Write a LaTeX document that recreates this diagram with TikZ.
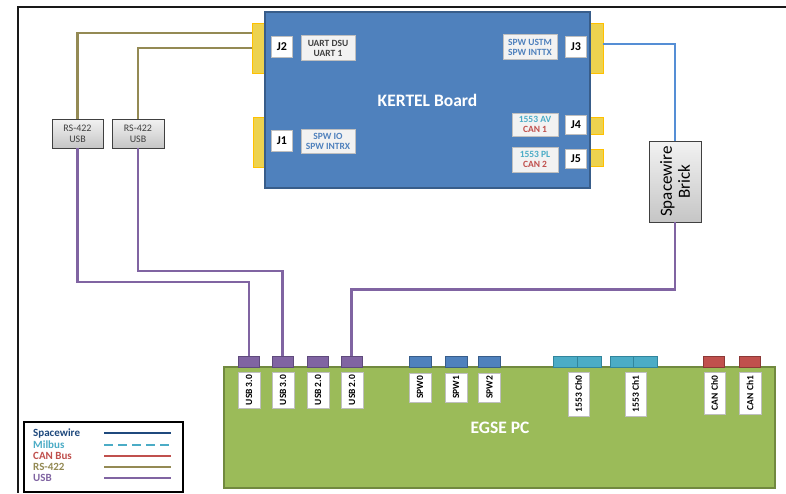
\documentclass[tikz,border=0pt]{standalone}
\usepackage{fontspec}
\setmainfont{Carlito}
\definecolor{boardblue}{HTML}{4F81BD}
\definecolor{boardedge}{HTML}{385D8A}
\definecolor{jackfill}{HTML}{EDD24F}
\definecolor{jackedge}{HTML}{FFC000}
\definecolor{pcgreen}{HTML}{9BBB59}
\definecolor{pcedge}{HTML}{71893F}
\definecolor{usbpurple}{HTML}{8064A2}
\definecolor{usbedge}{HTML}{5F4A7C}
\definecolor{milcyan}{HTML}{4BACC6}
\definecolor{miledge}{HTML}{31859C}
\definecolor{canred}{HTML}{C0504D}
\definecolor{canedge}{HTML}{8C3836}
\definecolor{rsolive}{HTML}{948A54}
\definecolor{spwdark}{HTML}{1F497D}
\definecolor{wireblue}{HTML}{558ED5}
\definecolor{labgray}{HTML}{F2F2F2}
\definecolor{labedge}{HTML}{BFBFBF}
\begin{document}
\begin{tikzpicture}[x=1pt,y=-1pt,
  box/.style={rectangle, inner sep=0pt, outer sep=0pt},
  jack/.style={box, fill=jackfill, draw=jackedge, line width=1pt},
  jlabel/.style={box, fill=white, draw=labedge, line width=0.8pt,
    minimum width=21, minimum height=21, font=\fontsize{12}{12}\selectfont\bfseries},
  infolab/.style={box, fill=labgray, draw=labedge, line width=1pt,
    align=center, font=\fontsize{9.5}{10}\selectfont\bfseries},
  conv/.style={box, top color=labgray, bottom color=gray!45, draw=black!75,
    line width=0.8pt, align=center},
  port/.style={box, line width=0.8pt, minimum height=11},
  usbport/.style={port, fill=usbpurple, draw=usbedge, minimum width=21},
  spwport/.style={port, fill=boardblue, draw=boardedge, minimum width=22},
  milport/.style={port, fill=milcyan, draw=miledge, minimum width=24},
  canport/.style={port, fill=canred, draw=canedge, minimum width=21},
  portlab/.style={box, fill=white, draw=labedge, line width=0.8pt, rotate=90,
    minimum height=22, font=\fontsize{9.5}{9.5}\selectfont\bfseries},
  rswire/.style={draw=rsolive, line width=2.2pt},
  usbwire/.style={draw=usbpurple, line width=2.2pt},
  spwwire/.style={draw=wireblue, line width=2.2pt},
  legtext/.style={anchor=west, inner sep=0pt, font=\fontsize{11}{11}\selectfont\bfseries}
]
\useasboundingbox (0,0) rectangle (786,493);

% outer frame
\draw[line width=2pt, black!90] (786,7) -- (18,7) -- (18,493);

% board connectors
\node[jack, minimum width=13, minimum height=50] (y2) at (258.5,48) {};
\node[jack, minimum width=12, minimum height=50] (y1) at (259,142) {};
\node[jack, minimum width=13, minimum height=50] (y3) at (596.5,48) {};
\node[jack, minimum width=13, minimum height=17] (y4) at (596.5,125.5) {};
\node[jack, minimum width=13, minimum height=17] (y5) at (596.5,158) {};

% KERTEL board
\node[box, fill=boardblue, draw=boardedge, line width=1.2pt,
  minimum width=325, minimum height=176, text=white,
  font=\fontsize{17.5}{17.5}\selectfont\bfseries] (board) at (427.5,100) {KERTEL Board};

\node[jlabel] (j2) at (282,47) {J2};
\node[jlabel] (j1) at (282,141) {J1};
\node[jlabel] (j3) at (576,47) {J3};
\node[jlabel, minimum height=19] (j4) at (576,125) {J4};
\node[jlabel, minimum height=19] (j5) at (576,159) {J5};

\node[infolab, minimum width=54, minimum height=25, text=black!75] (l2) at (328,48) {UART DSU\\UART 1};
\node[infolab, minimum width=54, minimum height=24, text=boardblue] (l1) at (328,141) {SPW IO\\SPW INTRX};
\node[infolab, minimum width=54, minimum height=25, text=boardblue] (l3) at (530,47) {SPW USTM\\SPW INTTX};
\node[infolab, minimum width=46, minimum height=23] (l4) at (535,124.5) {\textcolor{milcyan}{1553 AV}\\\textcolor{canred}{CAN 1}};
\node[infolab, minimum width=46, minimum height=25] (l5) at (535,159.5) {\textcolor{milcyan}{1553 PL}\\\textcolor{canred}{CAN 2}};

% converters
\node[conv, minimum width=51, minimum height=29, font=\fontsize{10}{11}\selectfont, text=black!75] (r1) at (77.5,133.5) {RS-422\\USB};
\node[conv, minimum width=52, minimum height=29, font=\fontsize{10}{11}\selectfont, text=black!75] (r2) at (138,133.5) {RS-422\\USB};
\node[conv, minimum width=52, minimum height=81] (brick) at (675,181.5) {};
\node[rotate=90, align=center, inner sep=0pt, font=\fontsize{17}{18}\selectfont] (bricktext) at (brick.center) {Spacewire\\Brick};

% EGSE PC
\node[box, fill=pcgreen, draw=pcedge, line width=1.2pt, minimum width=551, minimum height=121] (pc) at (499.5,427.5) {};
\node[text=white, font=\fontsize{17.5}{17.5}\selectfont\bfseries, inner sep=0pt] (pctext) at (500,428) {EGSE PC};

% PC ports
\node[usbport, anchor=south] (u1) at (249,367) {};
\node[usbport, anchor=south] (u2) at (282.5,367) {};
\node[usbport, anchor=south] (u3) at (317.5,367) {};
\node[usbport, anchor=south] (u4) at (351.5,367) {};
\node[spwport, anchor=south] (s0) at (420,367) {};
\node[spwport, anchor=south] (s1) at (456,367) {};
\node[spwport, anchor=south] (s2) at (489,367.5) {};
\node[milport, anchor=south] (m0a) at (565,367) {};
\node[milport, anchor=south] (m0b) at (589,367) {};
\node[milport, anchor=south] (m1a) at (622.5,367) {};
\node[milport, anchor=south] (m1b) at (645.5,367) {};
\node[canport, anchor=south] (c0) at (713.5,367) {};
\node[canport, anchor=south] (c1) at (749.5,367) {};

\node[portlab, minimum width=36] (tu1) at (249,390) {USB 3.0};
\node[portlab, minimum width=36] (tu2) at (283,390) {USB 3.0};
\node[portlab, minimum width=36] (tu3) at (318,390) {USB 2.0};
\node[portlab, minimum width=36] (tu4) at (352,390) {USB 2.0};
\node[portlab, minimum width=29] (ts0) at (420,387.5) {SPW0};
\node[portlab, minimum width=29] (ts1) at (456,387.5) {SPW1};
\node[portlab, minimum width=29] (ts2) at (489.5,387.5) {SPW2};
\node[portlab, minimum width=44, minimum height=21] (tm0) at (578.5,394) {1553 Ch0};
\node[portlab, minimum width=44, minimum height=21] (tm1) at (635.5,394) {1553 Ch1};
\node[portlab, minimum width=42, minimum height=21] (tc0) at (714.5,393) {CAN Ch0};
\node[portlab, minimum width=42] (tc1) at (750,393) {CAN Ch1};

% wiring
\draw[rswire] ([yshift=15pt]y2.west) -| (r1.north);
\draw[rswire] (y2.west) -| (r2.north);
\coordinate (k1) at (249,282);
\coordinate (k2) at (282.5,271);
\coordinate (k3) at (351.5,289.5);
\draw[usbwire] (r1.south) |- (k1) -- (u1.north);
\draw[usbwire] (r2.south) |- (k2) -- (u2.north);
\draw[usbwire] (brick.south) |- (k3) -- (u4.north);
\draw[spwwire] ([yshift=4pt]y3.east) -| (brick.north);

% legend
\node[box, draw=black, line width=1.8pt, minimum width=159, minimum height=70, fill=white] (legend) at (103.5,457) {};
\node[legtext, text=spwdark] (lg1) at (33,433) {Spacewire};
\node[legtext, text=milcyan] (lg2) at (33,444.5) {Milbus};
\node[legtext, text=canred] (lg3) at (33,455.5) {CAN Bus};
\node[legtext, text=rsolive] (lg4) at (33,466.5) {RS-422};
\node[legtext, text=usbpurple] (lg5) at (33,478) {USB};
\coordinate (a1) at (104,433); \coordinate (b1) at (171,433);
\coordinate (a2) at (104,444.5); \coordinate (b2) at (171,444.5);
\coordinate (a3) at (104,455.5); \coordinate (b3) at (171,455.5);
\coordinate (a4) at (104,466.5); \coordinate (b4) at (171,466.5);
\coordinate (a5) at (104,478); \coordinate (b5) at (171,478);
\draw[draw=spwdark, line width=2pt] (a1) -- (b1);
\draw[draw=milcyan, line width=2pt, dash pattern=on 9pt off 5pt] (a2) -- (b2);
\draw[draw=canred, line width=2pt] (a3) -- (b3);
\draw[draw=rsolive, line width=2pt] (a4) -- (b4);
\draw[draw=usbpurple, line width=2pt] (a5) -- (b5);
\end{tikzpicture}
\end{document}
